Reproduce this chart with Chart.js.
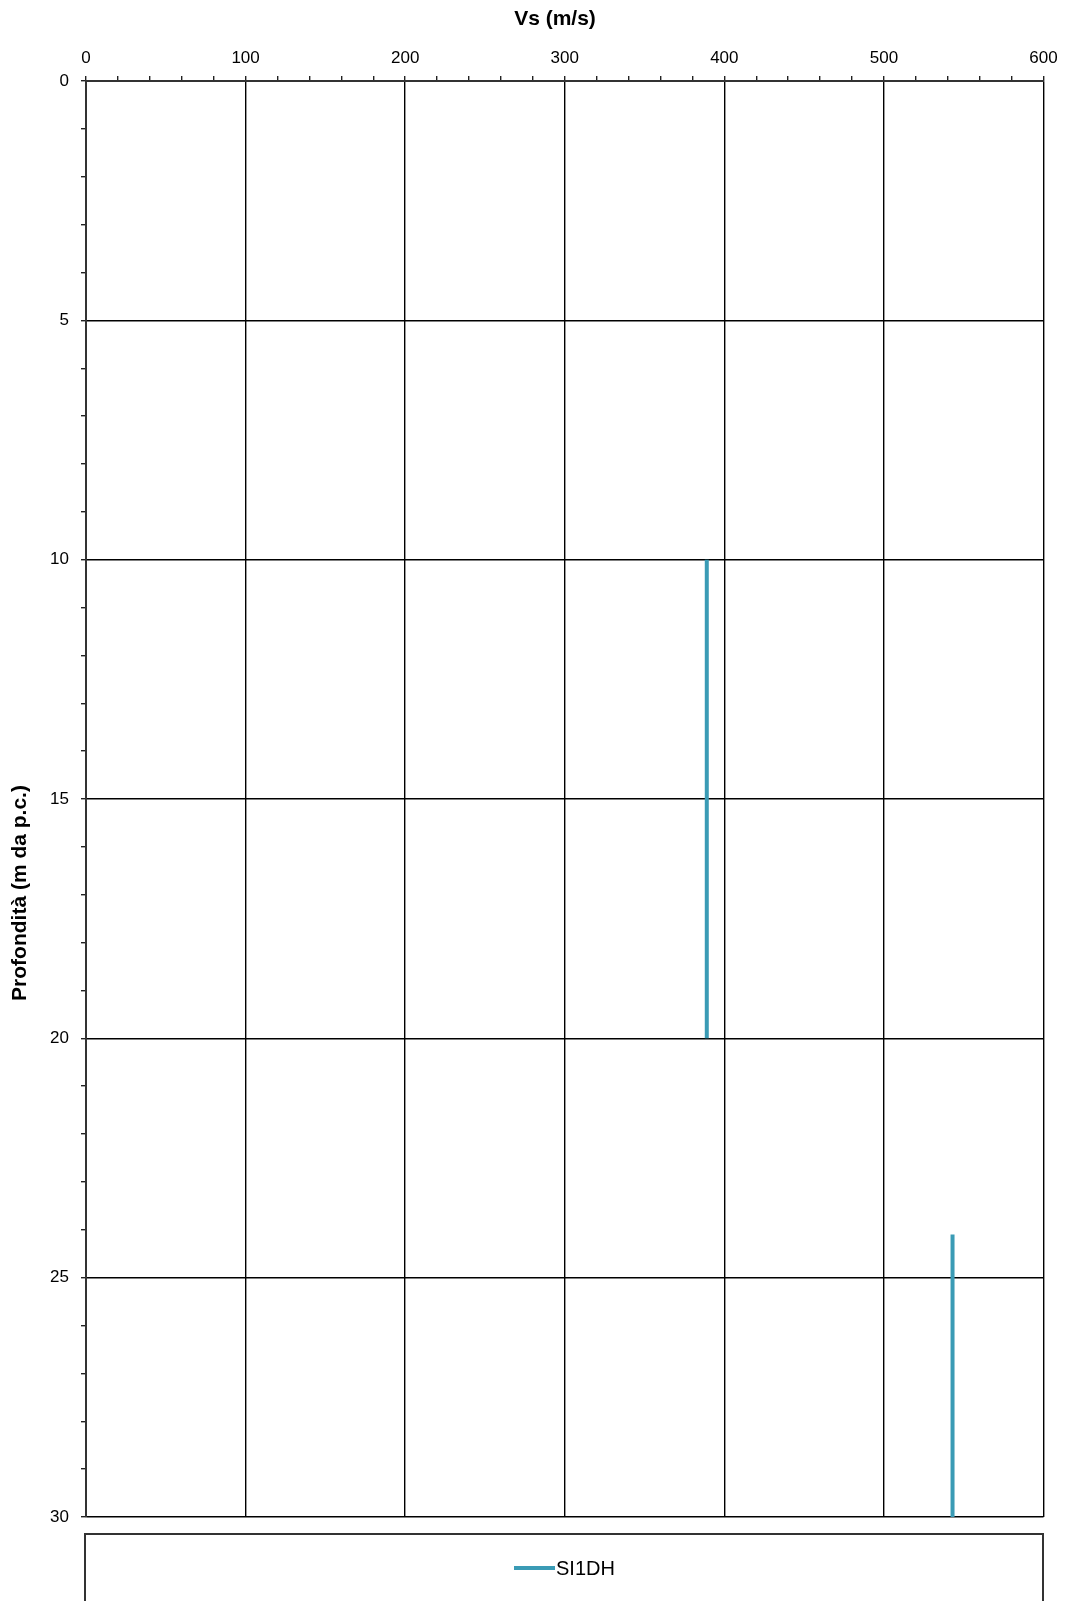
<!DOCTYPE html>
<html>
<head>
<meta charset="utf-8">
<script src="https://cdn.jsdelivr.net/npm/chart.js@4/dist/chart.umd.min.js"></script>
<style>
  body { margin: 0; background: #fff; }
  #wrap { width: 1068px; height: 1601px; position: relative; }
</style>
</head>
<body>
<div id="wrap"><canvas id="myChart" width="1068" height="1601"></canvas></div>
<script>
// layers of the profile (depth in m, Vs in m/s)
var seriesName = 'SI1DH';
var layerTop = [10, 24.1];
var layerBottom = [20, 30];
var layerVs = [389, 543];

var xTitle = 'Vs (m/s)';
var yTitle = 'Profondità (m da p.c.)';

var FONT = "'Liberation Sans', Arial, sans-serif";
var LINE_COLOR = '#3a9bb5';

function buildPoints() {
    var pts = [];
    for (var i = 0; i < layerVs.length; i++) {
        pts.push({x: layerVs[i], y: layerTop[i]});
        pts.push({x: layerVs[i], y: layerBottom[i]});
        pts.push({x: layerVs[i], y: null}); // break between layers
    }
    return pts;
}

// axis titles and boxed legend
var decorPlugin = {
    id: 'decor',
    afterDraw: function (chart) {
        var ctx = chart.ctx;
        ctx.save();
        ctx.fillStyle = '#000';
        ctx.font = 'bold 21px ' + FONT;
        ctx.textAlign = 'center';
        ctx.textBaseline = 'middle';
        ctx.fillText(xTitle, 555, 19);

        ctx.translate(20, 893);
        ctx.rotate(-Math.PI / 2);
        ctx.fillText(yTitle, 0, 0);
        ctx.restore();

        // legend box
        ctx.save();
        ctx.strokeStyle = '#333';
        ctx.lineWidth = 2;
        ctx.strokeRect(85, 1534, 958, 100);
        ctx.strokeStyle = LINE_COLOR;
        ctx.lineWidth = 4;
        ctx.beginPath();
        ctx.moveTo(514, 1568);
        ctx.lineTo(555, 1568);
        ctx.stroke();
        ctx.fillStyle = '#000';
        ctx.font = '20px ' + FONT;
        ctx.textAlign = 'left';
        ctx.textBaseline = 'middle';
        ctx.fillText(seriesName, 556, 1569);
        ctx.restore();
    }
};

var ctx = document.getElementById('myChart').getContext('2d');
var chart = new Chart(ctx, {
    type: 'scatter',
    data: {
        datasets: [{
            label: seriesName,
            data: buildPoints(),
            showLine: true,
            spanGaps: false,
            borderColor: LINE_COLOR,
            backgroundColor: LINE_COLOR,
            borderWidth: 4,
            pointRadius: 0,
            borderCapStyle: 'butt'
        }]
    },
    options: {
        responsive: false,
        animation: false,
        layout: { padding: { left: 0, top: 0, right: 24.5, bottom: 84 } },
        plugins: {
            legend: { display: false },
            tooltip: { enabled: false }
        },
        scales: {
            x: {
                type: 'linear',
                position: 'top',
                min: 0,
                max: 600,
                afterFit: function (scale) { scale.height = 81; },
                ticks: {
                    stepSize: 20,
                    autoSkip: false,
                    maxRotation: 0,
                    padding: 7,
                    color: '#000',
                    font: { family: FONT, size: 17 },
                    callback: function (v) { return v % 100 === 0 ? v : ''; }
                },
                grid: {
                    color: function (c) { return c.tick && c.tick.value % 100 === 0 ? '#000' : 'rgba(0,0,0,0)'; },
                    tickColor: '#222',
                    tickLength: 5,
                    lineWidth: 1.4
                },
                border: { display: true, color: '#333', width: 2 }
            },
            y: {
                type: 'linear',
                reverse: true,
                min: 0,
                max: 30,
                afterFit: function (scale) { scale.width = 86; },
                ticks: {
                    stepSize: 1,
                    autoSkip: false,
                    padding: 12,
                    color: '#000',
                    font: { family: FONT, size: 17 },
                    callback: function (v) { return v % 5 === 0 ? v : ''; }
                },
                grid: {
                    color: function (c) { return c.tick && c.tick.value % 5 === 0 ? '#000' : 'rgba(0,0,0,0)'; },
                    tickColor: '#222',
                    tickLength: 5,
                    lineWidth: 1.4
                },
                border: { display: true, color: '#333', width: 2 }
            }
        }
    },
    plugins: [decorPlugin]
});
</script>
</body>
</html>
